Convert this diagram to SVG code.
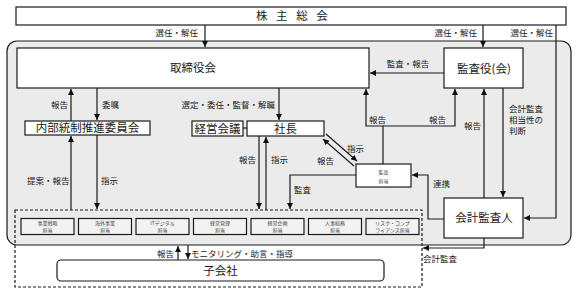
<svg xmlns="http://www.w3.org/2000/svg" width="577" height="293" viewBox="0 0 577 293">
<defs>
<marker id="ah" markerUnits="userSpaceOnUse" markerWidth="7" markerHeight="6" refX="6" refY="3" orient="auto">
<path d="M0,0 L6,3 L0,6 z" fill="#111"/>
</marker>
<style>
.t{font-family:"Noto Sans CJK JP","Noto Sans CJK SC",sans-serif;fill:#1a1a1a}
.big{font-size:11.5px}
.lb{font-size:8.5px}
.sm{font-size:5px;fill:#444}
.box{fill:#fff;stroke:#1a1a1a;stroke-width:1.2}
.dep{fill:#f2f2f2;stroke:#1a1a1a;stroke-width:1.2}
.c{fill:none;stroke:#1a1a1a;stroke-width:1.2}
.a{marker-end:url(#ah)}
</style>
</defs>
<rect x="7" y="41" width="564" height="204" rx="10" fill="#ebebeb" stroke="#1a1a1a" stroke-width="1.2"/>
<g id="kabunushi">
<rect class="box" x="16" y="7" width="550" height="18"/>
<text class="t big" x="256" y="20" letter-spacing="3">株 主 総 会</text>
</g>
<g id="torishimariyakukai">
<rect class="box" x="17" y="48" width="352" height="40"/>
<text class="t big" x="193" y="72" text-anchor="middle" font-size="12">取締役会</text>
</g>
<g id="kansayaku">
<rect class="box" x="444" y="48" width="79" height="40"/>
<text class="t big" x="484" y="73" text-anchor="middle">監査役(会)</text>
</g>
<g id="naibutousei">
<rect class="box" x="25" y="121" width="125" height="14"/>
<text class="t big" x="87.5" y="132" text-anchor="middle" font-size="11">内部統制推進委員会</text>
</g>
<g id="keieikaigi">
<rect class="box" x="192" y="121" width="51" height="15"/>
<text class="t big" x="217.5" y="132.5" text-anchor="middle" font-size="11">経営会議</text>
</g>
<g id="shacho">
<rect class="box" x="247" y="121" width="77" height="15"/>
<text class="t big" x="285.5" y="132.5" text-anchor="middle">社長</text>
</g>
<g id="kansatanto">
<rect class="box" x="356" y="164" width="55" height="23"/>
<text class="t sm" x="383.5" y="173.5" text-anchor="middle" font-size="5.5">監査</text>
<text class="t sm" x="383.5" y="182.5" text-anchor="middle" font-size="5.5">担当</text>
</g>
<g id="kaikeikansanin">
<rect class="box" x="444" y="198" width="79" height="40"/>
<text class="t big" x="484" y="222" text-anchor="middle" font-size="12">会計監査人</text>
</g>
<g id="group">
<rect x="15" y="210" width="407" height="77" fill="none" stroke="#1a1a1a" stroke-width="1.2" stroke-dasharray="3,2"/>
</g>
<g id="dept1"><rect class="dep" x="21" y="218.5" width="53" height="16"/><text class="t sm" x="47.5" y="224.5" text-anchor="middle">事業戦略</text><text class="t sm" x="47.5" y="231.8" text-anchor="middle">担当</text></g>
<g id="dept2"><rect class="dep" x="78.5" y="218.5" width="53" height="16"/><text class="t sm" x="105" y="224.5" text-anchor="middle">海外事業</text><text class="t sm" x="105" y="231.8" text-anchor="middle">担当</text></g>
<g id="dept3"><rect class="dep" x="136" y="218.5" width="53" height="16"/><text class="t sm" x="162.5" y="224.5" text-anchor="middle">ITデジタル</text><text class="t sm" x="162.5" y="231.8" text-anchor="middle">担当</text></g>
<g id="dept4"><rect class="dep" x="193.5" y="218.5" width="53" height="16"/><text class="t sm" x="220" y="224.5" text-anchor="middle">経営管理</text><text class="t sm" x="220" y="231.8" text-anchor="middle">担当</text></g>
<g id="dept5"><rect class="dep" x="251" y="218.5" width="53" height="16"/><text class="t sm" x="277.5" y="224.5" text-anchor="middle">経営企画</text><text class="t sm" x="277.5" y="231.8" text-anchor="middle">担当</text></g>
<g id="dept6"><rect class="dep" x="308.5" y="218.5" width="53" height="16"/><text class="t sm" x="335" y="224.5" text-anchor="middle">人事総務</text><text class="t sm" x="335" y="231.8" text-anchor="middle">担当</text></g>
<g id="dept7"><rect class="dep" x="366" y="218.5" width="53" height="16"/><text class="t sm" x="392.5" y="224.5" text-anchor="middle">リスク・コンプ</text><text class="t sm" x="392.5" y="231.8" text-anchor="middle">ライアンス担当</text></g>
<g id="kogaisha">
<rect class="box" x="57" y="260" width="327" height="21" rx="4"/>
<text class="t big" x="220.5" y="275" text-anchor="middle">子会社</text>
</g>
<g id="connectors">
<path class="c a" d="M205,25 V47"/>
<path class="c a" d="M483,25 V47"/>
<path class="c a" d="M556,25 V218 H524"/>
<path class="c a" d="M444,73 H370"/>
<path class="c a" d="M71,121 V89"/>
<path class="c a" d="M97,88 V120"/>
<path class="c a" d="M279,88 V120"/>
<path class="c" d="M243,128 H247"/>
<path class="c a" d="M259,136 V209"/>
<path class="c a" d="M266,210 V137"/>
<path class="c a" d="M326,134 L357,161"/>
<path class="c a" d="M354,166 L323,139"/>
<path class="c a" d="M383,164 V126 H366 V89"/>
<path class="c a" d="M383,126 H455 V89"/>
<path class="c a" d="M484,198 V89"/>
<path class="c a" d="M503,88 V197"/>
<path class="c a" d="M444,219 H428 V175 H412"/>
<path class="c a" d="M356,175 H290 V209"/>
<path class="c a" d="M71,210 V136"/>
<path class="c a" d="M97,135 V209"/>
<path class="c a" d="M484,238 V248 H423"/>
<path class="c a" d="M178,260 V246"/>
<path class="c a" d="M188,245 V259"/>
<text class="t lb" x="198" y="36" text-anchor="end">選任・解任</text>
<text class="t lb" x="477" y="36" text-anchor="end">選任・解任</text>
<text class="t lb" x="553" y="36" text-anchor="end">選任・解任</text>
<text class="t lb" x="408" y="67" text-anchor="middle">監査・報告</text>
<text class="t lb" x="68" y="108" text-anchor="end">報告</text>
<text class="t lb" x="102" y="108">委嘱</text>
<text class="t lb" x="275" y="108" text-anchor="end">選定・委任・監督・解職</text>
<text class="t lb" x="256" y="163" text-anchor="end">報告</text>
<text class="t lb" x="271" y="163">指示</text>
<text class="t lb" x="347" y="152">指示</text>
<text class="t lb" x="317" y="164">報告</text>
<text class="t lb" x="369" y="123">報告</text>
<text class="t lb" x="429" y="123">報告</text>
<text class="t lb" x="464" y="129">報告</text>
<text class="t lb" x="509" y="112">会計監査</text>
<text class="t lb" x="509" y="123">相当性の</text>
<text class="t lb" x="509" y="134">判断</text>
<text class="t lb" x="433" y="187">連携</text>
<text class="t lb" x="294" y="193">監査</text>
<text class="t lb" x="27" y="184">提案・報告</text>
<text class="t lb" x="101" y="184">指示</text>
<text class="t lb" x="423" y="262">会計監査</text>
<text class="t lb" x="174" y="257" text-anchor="end">報告</text>
<text class="t lb" x="191" y="257">モニタリング・助言・指導</text>
</g>
</svg>
